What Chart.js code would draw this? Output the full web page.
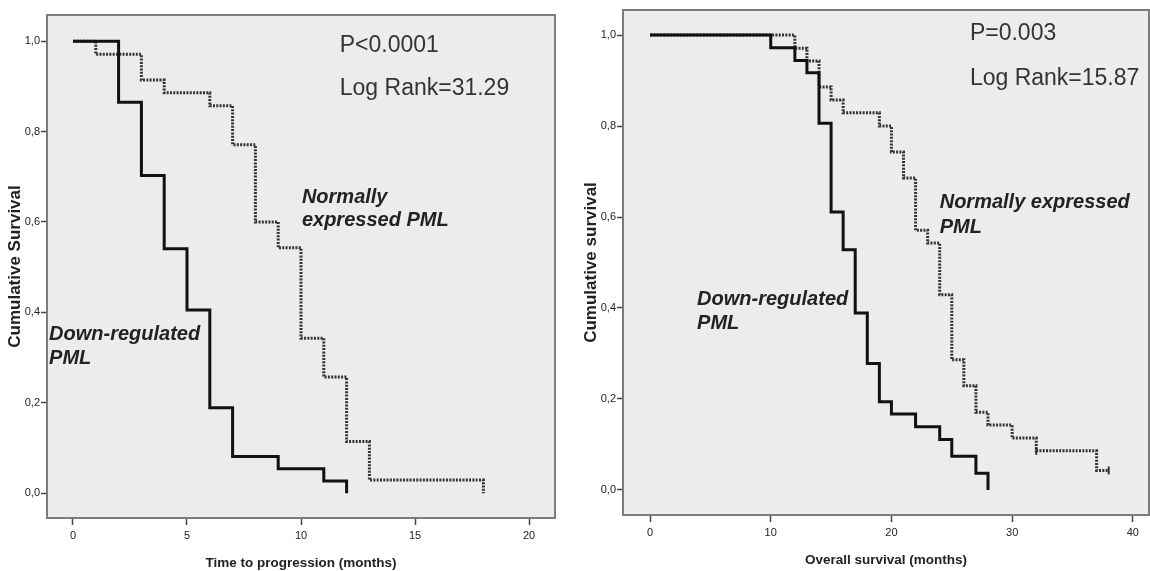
<!DOCTYPE html>
<html lang="en">
<head>
    <meta charset="UTF-8">
    <title>PML expression and survival</title>
    <script src="https://cdn.jsdelivr.net/npm/chart.js"></script>
    <style>
        body { margin: 0; background: #ffffff; }
        .panel { position: absolute; top: 0; }
    </style>
</head>
<body>
    <canvas id="ttpChart" class="panel" width="575" height="571" style="left:0px"></canvas>
    <canvas id="osChart" class="panel" width="575" height="571" style="left:575px"></canvas>
    <script>
        // Time to progression (months)
        var ttpDownTimes = [0, 2, 3, 4, 5, 6, 7, 9, 11, 12];
        var ttpDownSurv = [1, 0.865, 0.703, 0.541, 0.405, 0.189, 0.081, 0.054, 0.027, 0];
        var ttpNormTimes = [0, 1, 3, 4, 6, 7, 8, 9, 10, 11, 12, 13, 18];
        var ttpNormSurv = [1, 0.971, 0.914, 0.886, 0.857, 0.771, 0.6, 0.543, 0.343, 0.257, 0.114, 0.029, 0];

        // Overall survival (months)
        var osDownTimes = [0, 10, 12, 13, 14, 15, 16, 17, 18, 19, 20, 22, 24, 25, 27, 28];
        var osDownSurv = [1, 0.972, 0.944, 0.917, 0.806, 0.611, 0.528, 0.389, 0.278, 0.194, 0.167, 0.139, 0.111, 0.074, 0.037, 0];
        var osNormTimes = [0, 12, 13, 14, 15, 16, 19, 20, 21, 22, 23, 24, 25, 26, 27, 28, 30, 32, 37, 38];
        var osNormSurv = [1, 0.971, 0.943, 0.886, 0.857, 0.829, 0.8, 0.743, 0.686, 0.571, 0.543, 0.429, 0.286, 0.229, 0.171, 0.143, 0.114, 0.086, 0.043, 0.043];
        var osCensorTimes = [32, 38];
        var osCensorSurv = [0.086, 0.043];

        // tick labels
        var ttpXTicks = [0, 5, 10, 15, 20];
        var osXTicks = [0, 10, 20, 30, 40];
        var yTicks = [0, 0.2, 0.4, 0.6, 0.8, 1.0];
        var yTickLabels = ['0,0', '0,2', '0,4', '0,6', '0,8', '1,0'];

        function toPoints(xs, ys) {
            return xs.map(function (x, i) { return { x: x, y: ys[i] }; });
        }

        // grey plot box with frame
        var framePlugin = {
            id: 'frame',
            beforeDraw: function (chart) {
                var a = chart.chartArea, ctx = chart.ctx;
                ctx.save();
                ctx.fillStyle = '#ececec';
                ctx.fillRect(a.left, a.top, a.right - a.left, a.bottom - a.top);
                ctx.restore();
            },
            beforeDatasetsDraw: function (chart) {
                var a = chart.chartArea, ctx = chart.ctx;
                ctx.save();
                ctx.strokeStyle = '#7c7c7c';
                ctx.lineWidth = 2;
                ctx.strokeRect(a.left, a.top, a.right - a.left, a.bottom - a.top);
                ctx.restore();
            }
        };

        // texts inside the plot, placed in data units
        var notesPlugin = {
            id: 'notes',
            afterDatasetsDraw: function (chart, args, opts) {
                var ctx = chart.ctx, xs = chart.scales.x, ys = chart.scales.y;
                ctx.save();
                ctx.textBaseline = 'middle';
                ctx.textAlign = 'left';
                opts.items.forEach(function (it) {
                    ctx.font = it.font;
                    ctx.fillStyle = it.color;
                    ctx.fillText(it.text, xs.getPixelForValue(it.x), ys.getPixelForValue(it.y));
                });
                ctx.restore();
            }
        };

        var statFont = '23px "Liberation Sans", Arial, sans-serif';
        var groupFont = 'italic bold 20px "Liberation Sans", Arial, sans-serif';

        function makeChart(id, cfg) {
            var datasets = [
                {
                    data: toPoints(cfg.downT, cfg.downS),
                    borderColor: '#111111',
                    borderWidth: 3,
                    stepped: 'before',
                    pointRadius: 0,
                    fill: false
                },
                {
                    data: toPoints(cfg.normT, cfg.normS),
                    borderColor: '#333333',
                    borderWidth: 3,
                    borderDash: [2, 1.3],
                    stepped: 'before',
                    pointRadius: 0,
                    fill: false
                }
            ];
            if (cfg.censT) {
                datasets.push({
                    data: toPoints(cfg.censT, cfg.censS),
                    showLine: false,
                    pointStyle: 'line',
                    rotation: 90,
                    pointRadius: 4,
                    pointBorderWidth: 2,
                    pointBorderColor: '#333333'
                });
            }

            return new Chart(document.getElementById(id).getContext('2d'), {
                type: 'line',
                data: { datasets: datasets },
                plugins: [framePlugin, notesPlugin],
                options: {
                    responsive: false,
                    animation: false,
                    events: [],
                    layout: { padding: cfg.padding, autoPadding: false },
                    plugins: {
                        legend: { display: false },
                        tooltip: { enabled: false },
                        notes: { items: cfg.notes }
                    },
                    scales: {
                        x: {
                            type: 'linear',
                            min: cfg.xMin,
                            max: cfg.xMax,
                            afterBuildTicks: function (s) {
                                s.ticks = cfg.xTicks.map(function (v) { return { value: v }; });
                            },
                            afterFit: function (s) { s.height = cfg.xAxisH; },
                            grid: { drawOnChartArea: false, drawTicks: true, tickLength: 7, tickColor: '#444', tickWidth: 1.5 },
                            border: { display: false },
                            ticks: {
                                padding: 4,
                                color: '#222',
                                maxRotation: 0,
                                autoSkip: false,
                                font: { family: '"Liberation Sans", Arial, sans-serif', size: 11 }
                            },
                            title: {
                                display: true,
                                text: cfg.xTitle,
                                color: '#222',
                                padding: { top: 0, bottom: cfg.xTitlePad },
                                font: { family: '"Liberation Sans", Arial, sans-serif', size: 13.5, weight: 'bold' }
                            }
                        },
                        y: {
                            type: 'linear',
                            min: cfg.yMin,
                            max: cfg.yMax,
                            afterBuildTicks: function (s) {
                                s.ticks = yTicks.map(function (v) { return { value: v }; });
                            },
                            afterFit: function (s) { s.width = cfg.yAxisW; },
                            grid: { drawOnChartArea: false, drawTicks: true, tickLength: 6, tickColor: '#444', tickWidth: 1.5 },
                            border: { display: false },
                            ticks: {
                                padding: 1,
                                color: '#222',
                                autoSkip: false,
                                font: { family: '"Liberation Sans", Arial, sans-serif', size: 11 },
                                callback: function (v) { return yTickLabels[yTicks.indexOf(v)]; }
                            },
                            title: {
                                display: true,
                                text: cfg.yTitle,
                                color: '#222',
                                padding: { top: cfg.yTitlePad, bottom: 0 },
                                font: { family: '"Liberation Sans", Arial, sans-serif', size: 17, weight: 'bold' }
                            }
                        }
                    }
                }
            });
        }

        makeChart('ttpChart', {
            downT: ttpDownTimes, downS: ttpDownSurv,
            normT: ttpNormTimes, normS: ttpNormSurv,
            xMin: -1.14, xMax: 21.14, yMin: -0.055, yMax: 1.058,
            xTicks: ttpXTicks,
            padding: { left: 0, right: 20, top: 15, bottom: 0 },
            yAxisW: 47, xAxisH: 53, xTitlePad: 0, yTitlePad: 5,
            xTitle: 'Time to progression (months)',
            yTitle: 'Cumulative Survival',
            notes: [
                { text: 'P<0.0001', x: 11.7, y: 0.991, font: statFont, color: '#333' },
                { text: 'Log Rank=31.29', x: 11.7, y: 0.896, font: statFont, color: '#333' },
                { text: 'Normally', x: 10.04, y: 0.655, font: groupFont, color: '#222' },
                { text: 'expressed PML', x: 10.04, y: 0.604, font: groupFont, color: '#222' },
                { text: 'Down-regulated', x: -1.05, y: 0.35, font: groupFont, color: '#222' },
                { text: 'PML', x: -1.05, y: 0.299, font: groupFont, color: '#222' }
            ]
        });

        makeChart('osChart', {
            downT: osDownTimes, downS: osDownSurv,
            normT: osNormTimes, normS: osNormSurv,
            censT: osCensorTimes, censS: osCensorSurv,
            xMin: -2.24, xMax: 41.34, yMin: -0.055, yMax: 1.055,
            xTicks: osXTicks,
            padding: { left: 0, right: 1, top: 10, bottom: 0 },
            yAxisW: 48, xAxisH: 56, xTitlePad: 3, yTitlePad: 6,
            xTitle: 'Overall survival (months)',
            yTitle: 'Cumulative survival',
            notes: [
                { text: 'P=0.003', x: 26.5, y: 1.004, font: statFont, color: '#333' },
                { text: 'Log Rank=15.87', x: 26.5, y: 0.905, font: statFont, color: '#333' },
                { text: 'Normally expressed', x: 24.0, y: 0.633, font: groupFont, color: '#222' },
                { text: 'PML', x: 24.0, y: 0.578, font: groupFont, color: '#222' },
                { text: 'Down-regulated', x: 3.9, y: 0.418, font: groupFont, color: '#222' },
                { text: 'PML', x: 3.9, y: 0.367, font: groupFont, color: '#222' }
            ]
        });
    </script>
</body>
</html>
